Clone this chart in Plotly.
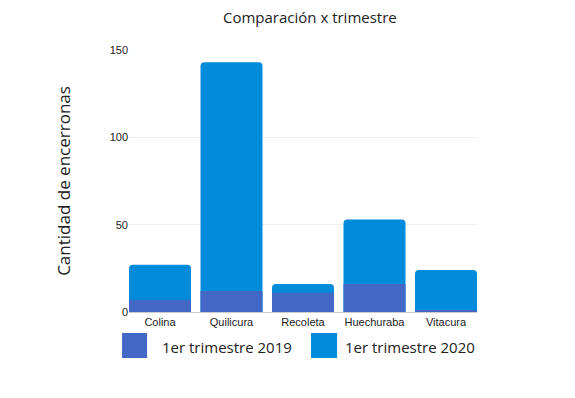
import plotly.graph_objects as go

categories = ["Colina", "Quilicura", "Recoleta", "Huechuraba", "Vitacura"]
values_2019 = [7, 12, 11, 16, 1]
values_2020 = [27, 143, 16, 53, 24]
series_names = ["1er trimestre 2019", "1er trimestre 2020"]
y_ticks = [0, 50, 100, 150]

color_2019 = "#4267c4"
color_2020 = "#008bdb"
bar_w = 0.867

fig = go.Figure()
fig.add_trace(go.Bar(x=categories, y=values_2020, name=series_names[1], width=bar_w,
                     marker=dict(color=color_2020, cornerradius=4, line=dict(width=0)),
                     showlegend=False))
fig.add_trace(go.Bar(x=categories, y=values_2019, name=series_names[0], width=bar_w,
                     marker=dict(color=color_2019, line=dict(width=0)),
                     showlegend=False))

# manual legend (large squares)
legend_items = [(series_names[0], color_2019, -0.020, 0.052, 0.089),
                (series_names[1], color_2020, 0.523, 0.598, 0.615)]
for name, col, x0, x1, xt in legend_items:
    fig.add_shape(type="rect", xref="paper", yref="paper",
                  x0=x0, x1=x1, y0=-0.1756, y1=-0.080,
                  fillcolor=col, line=dict(width=0))
    fig.add_annotation(text=name, xref="paper", yref="paper", x=xt, y=-0.134,
                       xanchor="left", yanchor="middle", showarrow=False,
                       font=dict(family="Open Sans", size=15, color="#222"))

fig.update_layout(
    width=575, height=398,
    margin=dict(l=121, r=106, t=42, b=94),
    paper_bgcolor="white", plot_bgcolor="white",
    barmode="overlay",
    title=dict(text="Comparación x trimestre", x=0.525, xanchor="center",
               y=0.975, yanchor="middle",
               font=dict(family="Open Sans", size=15, color="#222")),
    font=dict(family="Liberation Sans", size=11, color="#222"),
)
fig.update_xaxes(showgrid=False, showline=True, linecolor="#ccc", linewidth=1,
                 range=[-bar_w / 2, len(categories) - 1 + bar_w / 2],
                 tickfont=dict(family="Liberation Sans", size=11, color="#222"), ticks="")
fig.update_yaxes(range=[0, 150], tickvals=y_ticks, showgrid=True, gridcolor="#eeeeee",
                 zeroline=False, showline=False, ticks="",
                 tickfont=dict(family="Liberation Sans", size=11, color="#222"),
                 title=dict(text="Cantidad de encerronas", standoff=34,
                            font=dict(family="Open Sans", size=17, color="#222")))

fig.write_html("out.html")
